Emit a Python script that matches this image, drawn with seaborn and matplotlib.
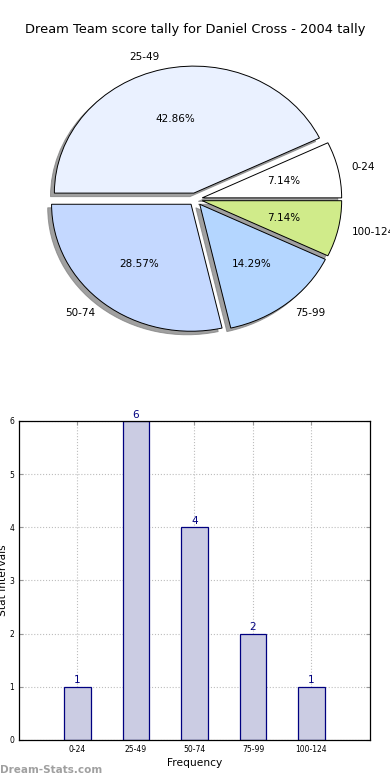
import matplotlib
matplotlib.use("Agg")
import matplotlib.pyplot as plt
import seaborn as sns
import pandas as pd

# score intervals and how many games fell in each
intervals = ['0-24', '25-49', '50-74', '75-99', '100-124']
counts = [1, 6, 4, 2, 1]
pie_colors = ['#ffffff', '#eaf1ff', '#c4d8ff', '#b4d6ff', '#d0eb8a']
title = 'Dream Team score tally for Daniel Cross - 2004 tally'

df = pd.DataFrame({'Interval': intervals, 'Count': counts})

plt.rcParams['font.family'] = ['DejaVu Sans']
fig = plt.figure(figsize=(3.9, 7.8), dpi=100)

# --- pie on top (squashed, not equal aspect) ---
ax1 = fig.add_axes([0.054, 0.541, 0.894, 0.407])
wedges, texts, autotexts = ax1.pie(
    df['Count'], labels=df['Interval'], colors=pie_colors,
    explode=[0.05] * len(counts),
    shadow={'ox': -0.02, 'oy': -0.02, 'facecolor': '#808080',
            'edgecolor': '#808080', 'alpha': 0.75},
    autopct='%.2f%%', startangle=0, counterclock=True,
    wedgeprops={'edgecolor': 'black', 'linewidth': 0.7},
    textprops={'fontsize': 7.5})
ax1.set_aspect('auto')
ax1.set_xlim(-1.25, 1.25)
ax1.set_ylim(-1.25, 1.25)
fig.text(0.5, 1 - 30 / 780, title, ha='center', va='center', fontsize=9.4)

# --- bar chart below ---
ax2 = fig.add_axes([0.0487, 0.0513, 0.9, 0.409])
sns.barplot(data=df, x='Interval', y='Count', width=0.45, color='#cbcce3',
            saturation=1, edgecolor='#000080', linewidth=0.9, ax=ax2)
ax2.bar_label(ax2.containers[0], color='#000080', padding=1, fontsize=7.5)
ax2.set_xlim(-1, 5)
ax2.set_ylim(0, 6)
ax2.set_yticks(range(0, 7))
ax2.grid(True, linestyle=':', color='#bdbdbd', linewidth=0.8)
ax2.set_axisbelow(True)
ax2.tick_params(direction='in', top=True, right=True, labelsize=5.5,
                length=3, color='#999999')
for s in ax2.spines.values():
    s.set_linewidth(0.9)
ax2.set_xlabel('Frequency', fontsize=7.7, labelpad=3)
ax2.set_ylabel('Stat Intervals', fontsize=7.7)
ax2.yaxis.set_label_coords(-0.031, 0.5)

fig.text(0.0, 1 - 770 / 780, 'Dream-Stats.com', ha='left', va='center',
         fontsize=7.5, fontweight='bold', color='#a0a0a0')

fig.savefig('out.png', dpi=100)
